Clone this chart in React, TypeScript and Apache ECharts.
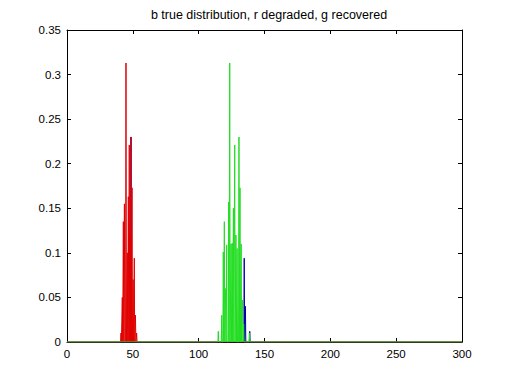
import React, { useEffect, useRef } from "react";
import * as echarts from "echarts";

const titleText = "b true distribution, r degraded, g recovered";
const yMax = 0.35;

// true distribution (blue) spikes
const blueX = [48.6, 134.6, 135.5, 138.8];
const blueY = [0.23, 0.094, 0.04, 0.012];

// degraded (red) spikes
const redX = [41.0, 42.0, 42.8, 43.6, 44.8, 45.8, 46.6, 47.3, 48.0, 48.6, 49.4, 50.2, 51.1, 52.0, 52.9];
const redY = [0.01, 0.05, 0.135, 0.155, 0.313, 0.1, 0.163, 0.221, 0.12, 0.23, 0.173, 0.07, 0.094, 0.03, 0.01];

// recovered (green) spikes
const greenX = [114.9, 117.5, 118.7, 119.5, 120.5, 121.3, 122.8, 123.6, 124.6, 125.5, 126.4, 127.4, 128.3, 129.2, 130.6, 131.4, 132.3, 133.3, 134.2, 138.5];
const greenY = [0.012, 0.03, 0.101, 0.135, 0.06, 0.109, 0.157, 0.313, 0.11, 0.111, 0.15, 0.221, 0.12, 0.105, 0.23, 0.173, 0.11, 0.047, 0.02, 0.01];

function spikes(xs: number[], ys: number[]) {
  const pts: number[][] = [[0, 0]];
  xs.forEach((x, i) => {
    pts.push([x - 0.3, 0], [x, ys[i]], [x + 0.3, 0]);
  });
  pts.push([300, 0]);
  return pts;
}

export default function App() {
  const ref = useRef<HTMLDivElement>(null);
  useEffect(() => {
    const chart = echarts.init(ref.current!, null, { renderer: "svg" });
    const font = "Liberation Sans";
    const axisCommon = {
      axisLine: { show: true, onZero: false, lineStyle: { color: "#000", width: 1 } },
      axisTick: { show: true, inside: true, length: 4, lineStyle: { color: "#000" } },
      splitLine: { show: false },
    };
    chart.setOption({
      animation: false,
      backgroundColor: "#fff",
      title: {
        text: titleText,
        left: 264,
        textAlign: "center",
        top: 3,
        textStyle: { fontFamily: font, fontSize: 12.5, fontWeight: "normal", color: "#000" },
      },
      grid: { left: 67, right: 50, top: 30, bottom: 42, show: false },
      xAxis: [
        {
          type: "value",
          min: 0,
          max: 300,
          interval: 50,
          position: "bottom",
          ...axisCommon,
          axisLabel: { fontFamily: font, fontSize: 11.5, color: "#000", margin: 6 },
        },
        {
          type: "value",
          min: 0,
          max: 300,
          interval: 50,
          position: "top",
          ...axisCommon,
          axisLabel: { show: false },
        },
      ],
      yAxis: [
        {
          type: "value",
          min: 0,
          max: yMax,
          interval: 0.05,
          position: "left",
          ...axisCommon,
          axisLabel: {
            fontFamily: font,
            fontSize: 11.5,
            color: "#000",
            margin: 6,
            formatter: (v: number) => String(+v.toFixed(2)),
          },
        },
        {
          type: "value",
          min: 0,
          max: yMax,
          interval: 0.05,
          position: "right",
          ...axisCommon,
          axisLabel: { show: false },
        },
      ],
      series: [
        {
          type: "line",
          data: spikes(blueX, blueY),
          showSymbol: false,
          lineStyle: { color: "#0000b0", width: 1 },
          silent: true,
        },
        {
          type: "line",
          data: spikes(redX, redY),
          showSymbol: false,
          lineStyle: { color: "#e00000", width: 1 },
          silent: true,
        },
        {
          type: "line",
          data: spikes(greenX, greenY),
          showSymbol: false,
          lineStyle: { color: "#22dd22", width: 1 },
          silent: true,
        },
      ],
    });
    return () => chart.dispose();
  }, []);
  return (
    <div
      ref={ref}
      style={{ position: "fixed", left: 0, top: 0, width: 512, height: 384, background: "#fff" }}
    />
  );
}
